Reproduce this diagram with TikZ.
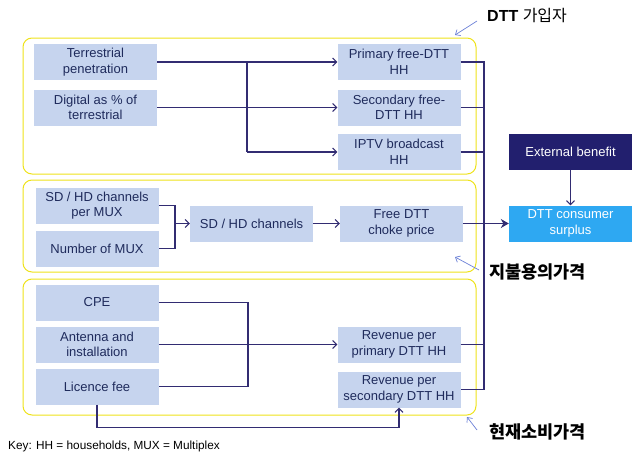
\documentclass[tikz,border=0pt]{standalone}
\usepackage{fontspec}
\setmainfont{Liberation Sans}
\newfontfamily\kr{Noto Sans CJK KR}
\usetikzlibrary{arrows.meta}
\definecolor{boxfill}{HTML}{C6D4EE}
\definecolor{boxtext}{HTML}{1F2B5C}
\definecolor{navy}{HTML}{221F6E}
\definecolor{skyblue}{HTML}{2EA8F2}
\definecolor{linecol}{HTML}{322C72}
\definecolor{frame}{HTML}{EEE21A}
\definecolor{annot}{HTML}{6A7FD6}
\tikzset{
  box/.style={fill=boxfill, text=boxtext, minimum width=123pt, minimum height=36pt,
    inner sep=0pt, align=center, font=\fontsize{13}{15.5}\selectfont},
  darkbox/.style={box, fill=navy, text=white},
  bluebox/.style={box, fill=skyblue, text=white},
  conn/.style={draw=linecol, line width=1.1pt},
  arr/.style={conn, -{Straight Barb[length=4pt,width=8pt,line width=1pt]}},
  bigarr/.style={draw=linecol, line width=1.8pt, -{Stealth[length=8pt,width=9pt]}},
  group/.style={draw=frame, line width=1pt, rounded corners=9pt},
  note/.style={draw=annot, line width=0.7pt, -{Straight Barb[length=4pt,width=7pt,line width=0.7pt]}},
  lbl/.style={anchor=west, inner sep=0pt, font=\fontsize{16}{18}\selectfont},
  krlbl/.style={anchor=west, inner sep=0pt, font=\fontsize{17.5}{19}\selectfont\kr\bfseries}
}
\begin{document}
\begin{tikzpicture}[x=1pt,y=-1pt]
\useasboundingbox (0,0) rectangle (642,458);
% group frames
\draw[group] (23,38) rectangle (476,174);
\draw[group] (23,180) rectangle (476,272);
\draw[group] (23,279) rectangle (476,415);
% nodes
\node[box] (tp) at (95.5,62) {Terrestrial\\penetration};
\node[box] (dg) at (95.5,107.5) {Digital as \% of\\terrestrial};
\node[box] (pf) at (399,62) {Primary free-DTT\\HH};
\node[box] (sf) at (399,107.5) {Secondary free-\\DTT HH};
\node[box] (ip) at (399,152) {IPTV broadcast\\HH};
\node[darkbox] (eb) at (570.5,152) {External benefit};
\node[box] (sdm) at (97,205.5) {SD / HD channels\\per MUX};
\node[box] (nm) at (97,248.5) {Number of MUX};
\node[box] (sdh) at (251.5,223.5) {SD / HD channels};
\node[box] (fc) at (401.5,223.5) {Free DTT\\choke price};
\node[bluebox] (cs) at (570.5,223.5) {DTT consumer\\surplus};
\node[box] (cpe) at (97,302.5) {CPE};
\node[box] (ant) at (97,344.5) {Antenna and\\installation};
\node[box] (lf) at (97,386.5) {Licence fee};
\node[box] (rp) at (399,344.5) {Revenue per\\primary DTT HH};
\node[box] (rs) at (399,389.5) {Revenue per\\secondary DTT HH};
% junction coordinates
\coordinate (j1) at (247,0);
\coordinate (bus) at (484,0);
\coordinate (m1) at (175,0);
\coordinate (c1) at (248,0);
% top group
\draw[arr] (tp.east) -- (pf.west);
\draw[conn] (dg.east) -- (j1|-dg.east);
\draw[conn] (j1|-tp.east) -- (j1|-ip.west);
\draw[arr] (j1|-sf.west) -- (sf.west);
\draw[arr] (j1|-ip.west) -- (ip.west);
% right bus
\draw[conn] (pf.east) -- (bus|-pf.east) -- (bus|-rs.east) -- (rs.east);
\draw[conn] (sf.east) -- (bus|-sf.east);
\draw[conn] (ip.east) -- (bus|-ip.east);
\draw[conn] (rp.east) -- (bus|-rp.east);
\draw[bigarr] (fc.east) -- (cs.west);
\draw[arr] (eb.south) -- (cs.north);
% middle group
\draw[conn] (sdm.east) -- (m1|-sdm.east) -- (m1|-nm.east) -- (nm.east);
\draw[arr] (m1|-sdh.west) -- (sdh.west);
\draw[arr] (sdh.east) -- (fc.west);
% bottom group
\draw[conn] (cpe.east) -- (c1|-cpe.east) -- (c1|-lf.east) -- (lf.east);
\draw[arr] (ant.east) -- (rp.west);
\draw[arr] (lf.south) -- ++(0,23) -| (rs.south);
% annotations
\node[lbl] (l1) at (487,16) {\textbf{DTT} {\kr 가입자}};
\coordinate (t1) at (455,35);
\draw[note] (l1.west) ++(-10,5) coordinate (s1) (s1) -- (t1);
\node[krlbl] (l2) at (489,272) {지불용의가격};
\coordinate (t2) at (455,257);
\draw[note] (l2.west) ++(-10,-2) coordinate (s2) (s2) -- (t2);
\node[krlbl] (l3) at (489,432) {현재소비가격};
\coordinate (t3) at (467,417);
\draw[note] (l3.west) ++(-12,-2) coordinate (s3) (s3) -- (t3);
\node[anchor=west, inner sep=0pt, text=black, font=\fontsize{11.8}{13}\selectfont] (key) at (8,446) {Key: HH = households, MUX = Multiplex};
\end{tikzpicture}
\end{document}
